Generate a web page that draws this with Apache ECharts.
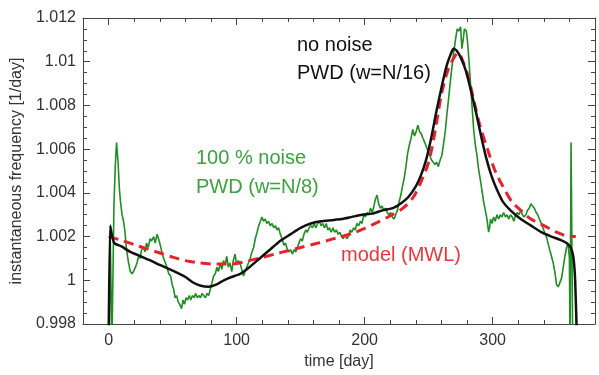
<!DOCTYPE html>
<html>
<head>
<meta charset="utf-8">
<script src="https://cdn.jsdelivr.net/npm/echarts@6/dist/echarts.min.js"></script>
<style>
  html, body { margin: 0; padding: 0; background: #fff; }
  #chart { width: 599px; height: 375px; }
</style>
</head>
<body>
<div id="chart"></div>
<script>
// x: time [day], y: instantaneous frequency [1/day]
const xMajorTicks = [0, 100, 200, 300];

// 100 % noise, PWD (w=N/8)
const noisyPWD = [
  [0.5,0.997],[1.2,1.0023],[2.6,0.997],[4.2,1.0035],[5.2,1.0052],[6.2,1.0063],[7.4,1.0054],[8.4,1.0042],
  [9.3,1.0036],[10.5,1.0030],[11.7,1.0027],[12.8,1.0022],[14,1.0014],[15.6,1.0008],[17,1.0004],[18.3,1.0003],
  [19.5,1.0004],[21,1.0006],[22.2,1.0008],[23.5,1.0011],[24.6,1.0010],[25.8,1.0014],[27.3,1.0015],[28.5,1.0013],
  [29.6,1.0017],[31,1.0015],[32.4,1.0019],[33.6,1.0018],[35.2,1.0020],[36.4,1.0017],[37.8,1.0021],[39,1.0019],
  [40.4,1.0016],[41.6,1.0013],[43,1.0010],[44.3,1.0008],[45.6,1.0006],[47,1.0003],[48.4,1.0002],[49.7,0.9998],
  [50.8,0.9996],[52,0.9992],[53.2,0.9993],[54.4,0.9990],[55.6,0.9989],[57,0.9987],[58.2,0.9991],[59.3,0.9989],
  [60.5,0.9992],[61.7,0.9991],[63,0.9993],[64.2,0.9991],[65.5,0.9993],[66.8,0.9992],[68,0.9994],[69.3,0.9992],
  [70.5,0.9993],[71.8,0.9992],[73,0.9994],[74.3,0.9993],[75.6,0.9992],[77,0.9994],[78.2,0.9993],[79.5,0.9996],
  [80.8,0.9999],[82,1.0002],[83.4,1.0003],[84.6,1.0006],[85.8,1.0004],[87.3,1.0008],[88.5,1.0005],[89.7,1.0009],
  [91,1.0007],[92.3,1.0011],[93.5,1.0006],[94.8,1.0008],[96.2,1.0004],[97.4,1.0009],[98.8,1.0012],[100,1.0007],
  [101.3,1.0009],[102.6,1.0008],[104,1.0005],[105.4,1.0002],[106.6,1.0004],[108,1.0006],[109.3,1.0008],[110.6,1.0010],
  [112,1.0013],[113.3,1.0015],[114.6,1.0019],[116,1.0022],[117.3,1.0025],[118.6,1.0027],[119.8,1.0029],[121,1.0027],
  [122.3,1.0028],[123.7,1.0026],[125,1.0027],[126.3,1.0025],[127.7,1.0026],[129,1.0024],[130.3,1.0025],[131.6,1.0023],
  [132.8,1.0024],[134.2,1.0021],[135.5,1.0019],[137,1.0016],[138.3,1.0017],[139.6,1.0014],[141,1.0013],[142.3,1.0014],
  [143.5,1.0012],[145,1.0014],[146.2,1.0013],[147.4,1.0015],[148.7,1.0017],[150,1.0019],[151.3,1.0018],[152.6,1.0021],
  [154,1.0023],[155.3,1.0022],[156.6,1.0024],[158,1.0025],[159.3,1.0024],[160.6,1.0026],[162,1.0024],[163.3,1.0026],
  [164.6,1.0027],[166,1.0025],[167.3,1.0026],[168.6,1.0024],[170,1.0026],[171.3,1.0023],[172.6,1.0024],[174,1.0022],
  [175.3,1.0024],[176.6,1.0022],[178,1.0023],[179.4,1.0021],[180.7,1.0022],[182,1.0020],[183.4,1.0019],[184.7,1.0021],
  [186,1.0019],[187.4,1.0020],[188.7,1.0023],[190,1.0022],[191.4,1.0024],[192.7,1.0023],[194,1.0026],[195.4,1.0025],
  [196.7,1.0027],[198,1.0026],[199.3,1.0030],[200.6,1.0029],[202,1.0031],[203.3,1.0030],[204.6,1.0033],[206,1.0031],
  [207.3,1.0034],[208.4,1.0037],[209.7,1.0039],[211,1.0035],[212.3,1.0033],[213.6,1.0034],[215,1.0032],[216.3,1.0033],
  [217.6,1.0031],[219,1.0030],[220.3,1.0031],[221.6,1.0029],[223,1.0028],[224.3,1.0030],[225.6,1.0032],[227,1.0036],
  [228.3,1.0039],[229.6,1.0043],[231,1.0047],[232.3,1.0052],[233.6,1.0058],[235,1.0062],[236.3,1.0065],[237.6,1.0069],
  [239,1.0066],[240.3,1.0068],[241.6,1.0071],[243,1.0068],[244.3,1.0067],[245.6,1.0065],[247,1.0063],[248.3,1.0061],
  [249.6,1.0059],[251,1.0057],[252.3,1.0055],[253.6,1.0055],[255,1.0053],[256.3,1.0054],[257.6,1.0052],[259,1.0055],
  [260.3,1.0057],[261.6,1.0062],[263,1.0068],[264.3,1.0076],[265.6,1.0083],[267,1.0091],[268.3,1.0098],[269.6,1.0104],
  [271,1.0110],[272.3,1.0115],[273.6,1.0114],[275,1.0116],[276,1.0106],[277,1.0110],[278,1.0115],[279.5,1.0114],
  [280.6,1.0108],[281.6,1.0100],[282.6,1.0091],[283.9,1.0080],[285.2,1.0069],[286.5,1.0062],[287.8,1.0057],[289,1.0051],
  [290.4,1.0046],[291.7,1.0041],[293,1.0036],[294.3,1.0032],[295.6,1.0028],[296.9,1.0022],[297.6,1.0024],[298.4,1.0028],
  [299.6,1.0026],[300.8,1.0029],[302,1.0027],[303.4,1.0030],[304.7,1.0028],[306,1.0030],[307.3,1.0029],[308.6,1.0031],
  [310,1.0029],[311.3,1.0030],[312.6,1.0028],[314,1.0030],[315.3,1.0029],[316.6,1.0027],[318,1.0030],[319.3,1.0031],
  [320.6,1.0030],[322,1.0032],[323.3,1.0030],[324.6,1.0029],[326,1.0030],[327.3,1.0032],[328.6,1.0033],[330,1.0035],
  [331.3,1.0034],[332.6,1.0033],[334,1.0031],[335.3,1.0030],[336.6,1.0028],[338,1.0026],[339.3,1.0024],[340.6,1.0022],
  [342,1.0020],[343.3,1.0017],[344.6,1.0014],[346,1.0011],[347.3,1.0008],[348.6,1.0004],[350,0.9998],[351.3,0.9997],
  [352.6,0.9997],[353.9,1.0001],[355.2,1.0006],[356.5,1.0011],[357.8,1.0015],[359,1.0017],[360,1.0010],[360.5,0.997],
  [361.3,1.0063],[361.8,1.0063],[362.6,0.997]
];

// model (MWL)
const modelMWL = [
  [0,1.0020],[10,1.00183],[20,1.00163],[30,1.00144],[40,1.00125],[50,1.00106],[60,1.0009],[70,1.0008],
  [80,1.00075],[90,1.00074],[100,1.00077],[110,1.0009],[120,1.00105],[130,1.0012],[140,1.00135],[150,1.0015],
  [160,1.00165],[170,1.0018],[180,1.00197],[190,1.00214],[200,1.00237],[210,1.00265],[220,1.00295],[230,1.0033],
  [238,1.0038],[244,1.0045],[250,1.0054],[255,1.0068],[260,1.0085],[265,1.0096],[270,1.0102],[273,1.0104],
  [277,1.0100],[281,1.0093],[285,1.0083],[290,1.0071],[296,1.0060],[302,1.0050],[308,1.0043],[315,1.0036],
  [322,1.0032],[330,1.0028],[340,1.0025],[350,1.0022],[360,1.0020],[365,1.0020]
];

// no noise, PWD (w=N/16)
const cleanPWD = [
  [0,0.997],[1.2,1.0025],[2.5,1.0021],[4.5,1.0017],[10,1.00155],[17,1.0013],[25,1.0011],[33,1.0009],
  [40,1.0007],[48,1.0005],[55,1.0003],[60,1.00015],[66,0.9999],[72,0.99975],[78,0.9997],[84,0.9998],
  [90,1.0000],[96,1.00015],[103,1.0003],[110,1.0006],[118,1.0010],[126,1.0014],[134,1.0018],[142,1.0021],
  [150,1.0024],[158,1.0026],[166,1.0027],[174,1.00275],[182,1.0028],[190,1.0029],[198,1.0030],[206,1.00305],
  [214,1.0032],[222,1.0033],[228,1.0035],[234,1.0038],[240,1.0043],[244,1.0048],[248,1.0055],[252,1.0065],
  [256,1.0077],[260,1.0088],[264,1.0098],[267,1.0103],[269.5,1.0106],[272,1.0105],[275,1.0102],[279,1.0096],
  [283,1.0087],[287,1.0077],[291,1.0066],[295,1.0056],[299,1.0048],[303,1.0042],[308,1.0036],[314,1.0032],
  [322,1.0028],[330,1.0025],[338,1.0022],[346,1.0020],[353,1.00185],[358,1.0017],[361,1.0015],[363,1.0011],
  [364.5,1.0000],[366,0.997]
];

const axisColor = "#444";
const font = "Liberation Sans, Arial, sans-serif";

const chart = echarts.init(document.getElementById("chart"), null, { renderer: "canvas" });

const xBase = { type: "value", min: -20, max: 380, splitLine: { show: false } };
const yBase = { type: "value", min: 0.998, max: 1.012, interval: 0.002, splitLine: { show: false } };

chart.setOption({
  animation: false,
  backgroundColor: "#fff",
  grid: { left: 83, right: 4, top: 18, bottom: 48 },
  xAxis: [
    {
      ...xBase,
      position: "bottom",
      interval: 20,
      name: "time [day]",
      nameLocation: "middle",
      nameGap: 30,
      nameTextStyle: { color: "#333", fontSize: 16, fontFamily: font },
      axisLine: { onZero: false, lineStyle: { color: axisColor, width: 1 } },
      axisTick: { inside: true, length: 4, lineStyle: { color: axisColor } },
      axisLabel: {
        color: "#333", fontSize: 16, fontFamily: font, margin: 9,
        formatter: (v) => (xMajorTicks.includes(v) ? String(v) : ""),
      },
    },
    {
      ...xBase,
      position: "bottom",
      axisLine: { show: false, onZero: false },
      axisTick: { inside: true, length: 7, customValues: xMajorTicks, lineStyle: { color: axisColor } },
      axisLabel: { show: false },
    },
    {
      ...xBase,
      position: "top",
      interval: 20,
      axisLine: { onZero: false, lineStyle: { color: axisColor, width: 1 } },
      axisTick: { inside: true, length: 4, lineStyle: { color: axisColor } },
      axisLabel: { show: false },
    },
    {
      ...xBase,
      position: "top",
      axisLine: { show: false, onZero: false },
      axisTick: { inside: true, length: 7, customValues: xMajorTicks, lineStyle: { color: axisColor } },
      axisLabel: { show: false },
    },
  ],
  yAxis: [
    {
      ...yBase,
      position: "left",
      name: "instantaneous frequency [1/day]",
      nameLocation: "middle",
      nameGap: 58,
      nameTextStyle: { color: "#333", fontSize: 16, fontFamily: font },
      axisLine: { show: true, onZero: false, lineStyle: { color: axisColor, width: 1 } },
      axisTick: { inside: true, length: 7, lineStyle: { color: axisColor } },
      minorTick: { show: true, splitNumber: 4, length: 4, lineStyle: { color: axisColor } },
      axisLabel: {
        color: "#333", fontSize: 16, fontFamily: font, margin: 7,
        formatter: (v) => String(+v.toFixed(3)),
      },
    },
    {
      ...yBase,
      position: "right",
      axisLine: { show: true, onZero: false, lineStyle: { color: axisColor, width: 1 } },
      axisTick: { inside: true, length: 7, lineStyle: { color: axisColor } },
      minorTick: { show: true, splitNumber: 4, length: 4, lineStyle: { color: axisColor } },
      axisLabel: { show: false },
    },
  ],
  series: [
    {
      name: "100 % noise PWD (w=N/8)",
      type: "line",
      data: noisyPWD,
      showSymbol: false,
      clip: true,
      lineStyle: { color: "#1f8f23", width: 1.6 },
      z: 2,
    },
    {
      name: "model (MWL)",
      type: "line",
      data: modelMWL,
      showSymbol: false,
      smooth: 0.3,
      clip: true,
      lineStyle: { color: "#e8222b", width: 3, type: [10, 6] },
      z: 3,
    },
    {
      name: "no noise PWD (w=N/16)",
      type: "line",
      data: cleanPWD,
      showSymbol: false,
      smooth: 0.2,
      clip: true,
      lineStyle: { color: "#111", width: 2.5 },
      z: 4,
    },
  ],
  graphic: [
    { type: "text", left: 297, top: 35, style: { text: "no noise", fill: "#111", font: `20px ${font}` } },
    { type: "text", left: 297, top: 63, style: { text: "PWD (w=N/16)", fill: "#111", font: `20px ${font}` } },
    { type: "text", left: 196, top: 148, style: { text: "100 % noise", fill: "#3aa33d", font: `20px ${font}` } },
    { type: "text", left: 196, top: 177, style: { text: "PWD (w=N/8)", fill: "#3aa33d", font: `20px ${font}` } },
    { type: "text", left: 341, top: 245, style: { text: "model (MWL)", fill: "#e8383d", font: `20px ${font}` } },
  ],
});
</script>
</body>
</html>
